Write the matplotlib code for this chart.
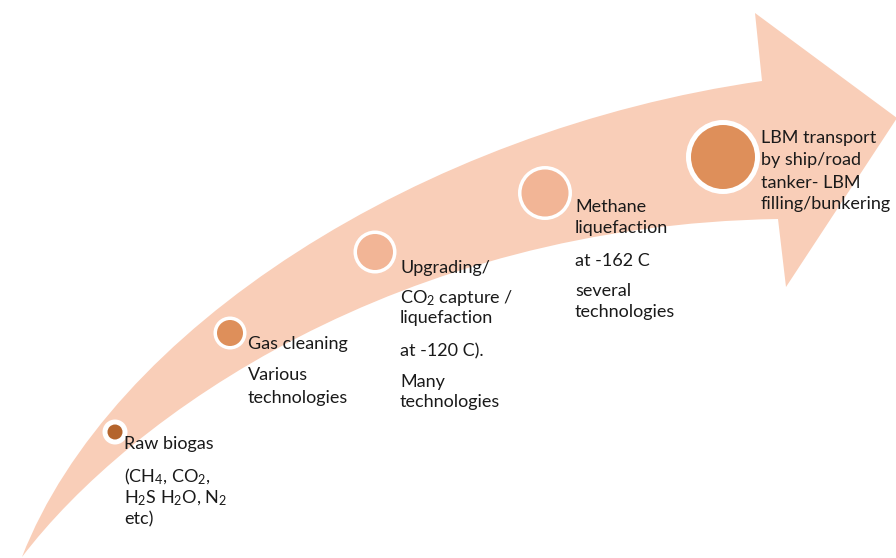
import matplotlib

matplotlib.use("Agg")
import matplotlib.pyplot as plt
from matplotlib.patches import Circle, PathPatch
from matplotlib.path import Path

plt.rcParams["font.family"] = ["Lato", "DejaVu Sans"]
plt.rcParams["mathtext.fontset"] = "custom"
plt.rcParams["mathtext.rm"] = "Lato"
plt.rcParams["mathtext.default"] = "regular"

# arrow outline (pixel coordinates, y down)
tail_tip = (22, 557)
upper_ctrl = [(110, 330), (420, 130), (762, 81)]
head_pts = [(755, 13), (897, 118), (786, 287), (778, 219)]
lower_ctrl = [(400, 225), (130, 415), (22, 557)]

# steps along the arrow
step_x = [115, 230, 375, 545, 723]
step_y = [432, 333, 252, 193, 157]
ring_r = [12.5, 16.5, 21.5, 27, 37]
dot_r = [7.5, 13, 18, 23.5, 32]
dot_colors = ["#B4642C", "#DE8F5A", "#F2B596", "#F2B596", "#DE8F5A"]

text_x = [124, 248, 400, 575, 761]
step_lines = [
    ["Raw biogas", "(CH$_4$, CO$_2$,", "H$_2$S H$_2$O, N$_2$", "etc)"],
    ["Gas cleaning", "Various", "technologies"],
    ["Upgrading/", "CO$_2$ capture /", "liquefaction", "at -120 C).", "Many", "technologies"],
    ["Methane", "liquefaction", "at -162 C", "several", "technologies"],
    ["LBM transport", "by ship/road", "tanker- LBM", "filling/bunkering"],
]
line_y = [
    [443, 474, 496, 518],
    [343, 374, 396],
    [266, 296, 317, 350, 380, 401],
    [206, 227, 259, 289, 310],
    [137, 159, 181, 203],
]

fig = plt.figure(figsize=(8.96, 5.58), dpi=100)
ax = fig.add_axes([0, 0, 1, 1])
ax.set_xlim(0, 896)
ax.set_ylim(558, 0)
ax.axis("off")

verts = [tail_tip] + upper_ctrl + head_pts + lower_ctrl + [tail_tip]
codes = (
    [Path.MOVETO]
    + [Path.CURVE4] * 3
    + [Path.LINETO] * 4
    + [Path.CURVE4] * 3
    + [Path.CLOSEPOLY]
)
ax.add_patch(PathPatch(Path(verts, codes), facecolor="#F9CEB8", edgecolor="none"))

for x, y, r1, r2, c in zip(step_x, step_y, ring_r, dot_r, dot_colors):
    ax.add_patch(Circle((x, y), r1, facecolor="white", edgecolor="none"))
    ax.add_patch(Circle((x, y), r2, facecolor=c, edgecolor="none"))

for tx, lines, ys in zip(text_x, step_lines, line_y):
    for s, y in zip(lines, ys):
        ax.text(tx, y, s, fontsize=13, color="#1A1A1A",
                ha="left", va="center_baseline")

fig.savefig("out.png", dpi=100)
plt.close(fig)
